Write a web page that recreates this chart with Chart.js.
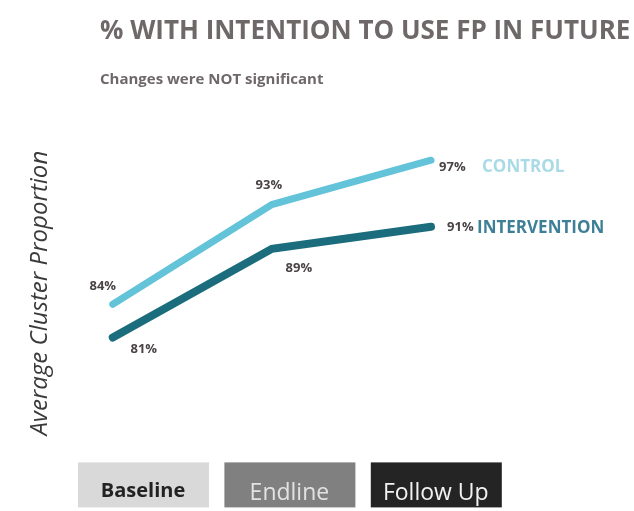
<!DOCTYPE html>
<html lang="en">
<head>
<meta charset="UTF-8">
<title>% With intention to use FP in future</title>
<script src="https://cdn.jsdelivr.net/npm/chart.js"></script>
<style>
  html, body { margin: 0; padding: 0; background: #fff; }
  #wrap { width: 634px; height: 511px; }
</style>
</head>
<body>
<div id="wrap"><canvas id="chart"></canvas></div>
<script>
  // values
  const rounds = ['Baseline', 'Endline', 'Follow Up'];
  const control = [84, 93, 97];
  const intervention = [81, 89, 91];
  const seriesNames = ['CONTROL', 'INTERVENTION'];

  const titleText = '% WITH INTENTION TO USE FP IN FUTURE';
  const subtitleText = 'Changes were NOT significant';

  const FONT = '"Open Sans", "DejaVu Sans", sans-serif';

  // title + subtitle, top left
  const headingPlugin = {
    id: 'heading',
    afterDraw(chart) {
      const ctx = chart.ctx;
      ctx.save();
      ctx.fillStyle = '#6f6869';
      ctx.textBaseline = 'alphabetic';
      ctx.font = 'bold 26px ' + FONT;
      ctx.fillText(titleText, 100, 39);
      ctx.font = 'bold 15px ' + FONT;
      ctx.fillText(subtitleText, 100, 84);
      ctx.restore();
    }
  };

  // grey boxes behind the round labels
  const boxColors = ['#d9d9d9', '#808080', '#242424'];
  const roundBoxesPlugin = {
    id: 'roundBoxes',
    beforeDraw(chart) {
      const ctx = chart.ctx;
      const x = chart.scales.x;
      const top = chart.chartArea.bottom + 3;
      ctx.save();
      rounds.forEach((r, i) => {
        const cx = x.getPixelForTick(i);
        ctx.fillStyle = boxColors[i];
        ctx.fillRect(cx - 65, top, 131, 45);
      });
      ctx.restore();
    }
  };

  // percentage labels next to each point, plus series name at the end
  const labelOffsets = [
    [[-10, -18, 'center'], [-3, -19, 'center'], [8, 7, 'left']],
    [[31, 12, 'center'], [27, 19, 'center'], [16, 1, 'left']]
  ];
  const nameStyle = [
    { dx: 51, dy: 7, color: '#a9dbe7' },
    { dx: 46, dy: 1, color: '#3d7f96' }
  ];
  const pointLabelsPlugin = {
    id: 'pointLabels',
    afterDatasetsDraw(chart) {
      const ctx = chart.ctx;
      ctx.save();
      ctx.textBaseline = 'middle';
      chart.data.datasets.forEach((ds, d) => {
        const meta = chart.getDatasetMeta(d);
        meta.data.forEach((pt, i) => {
          const [dx, dy, align] = labelOffsets[d][i];
          ctx.font = 'bold 13px ' + FONT;
          ctx.fillStyle = '#4a4446';
          ctx.textAlign = align;
          ctx.fillText(ds.data[i].y + '%', pt.x + dx, pt.y + dy);
        });
        const last = meta.data[meta.data.length - 1];
        ctx.font = 'bold 17px ' + FONT;
        ctx.fillStyle = nameStyle[d].color;
        ctx.textAlign = 'left';
        ctx.fillText(seriesNames[d], last.x + nameStyle[d].dx, last.y + nameStyle[d].dy);
      });
      ctx.restore();
    }
  };

  const toPoints = arr => arr.map((v, i) => ({ x: i, y: v }));

  new Chart(document.getElementById('chart'), {
    type: 'line',
    data: {
      labels: rounds,
      datasets: [
        {
          label: seriesNames[0],
          data: toPoints(control),
          xAxisID: 'xd',
          borderColor: '#63c3d8',
          borderWidth: 7,
          borderCapStyle: 'round',
          pointRadius: 0,
          tension: 0
        },
        {
          label: seriesNames[1],
          data: toPoints(intervention),
          xAxisID: 'xd',
          borderColor: '#1b6d7d',
          borderWidth: 8,
          borderCapStyle: 'round',
          pointRadius: 0,
          tension: 0
        }
      ]
    },
    options: {
      responsive: true,
      maintainAspectRatio: false,
      animation: false,
      layout: { padding: { left: 22, right: 125, top: 127, bottom: -16 } },
      plugins: {
        legend: { display: false },
        tooltip: { enabled: false }
      },
      scales: {
        x: {
          type: 'category',
          labels: rounds,
          offset: true,
          grid: { display: false, drawTicks: false },
          border: { display: false },
          ticks: {
            padding: 20,
            color: ctx => ['#222222', '#e2e2e2', '#f2f2f2'][ctx.index],
            font: ctx => ({
              family: FONT,
              size: ctx.index === 0 ? 20 : 23,
              weight: ctx.index === 0 ? 'bold' : 'normal'
            })
          }
        },
        xd: {
          type: 'linear',
          display: false,
          min: -0.27,
          max: 2.49
        },
        y: {
          min: 70,
          max: 100,
          grid: { display: false },
          border: { display: false },
          ticks: { display: false },
          title: {
            display: true,
            text: 'Average Cluster Proportion',
            color: '#3a3a3a',
            padding: { top: 4, bottom: 7 },
            font: { family: FONT, size: 24, style: 'italic' }
          }
        }
      }
    },
    plugins: [roundBoxesPlugin, pointLabelsPlugin, headingPlugin]
  });
</script>
</body>
</html>
